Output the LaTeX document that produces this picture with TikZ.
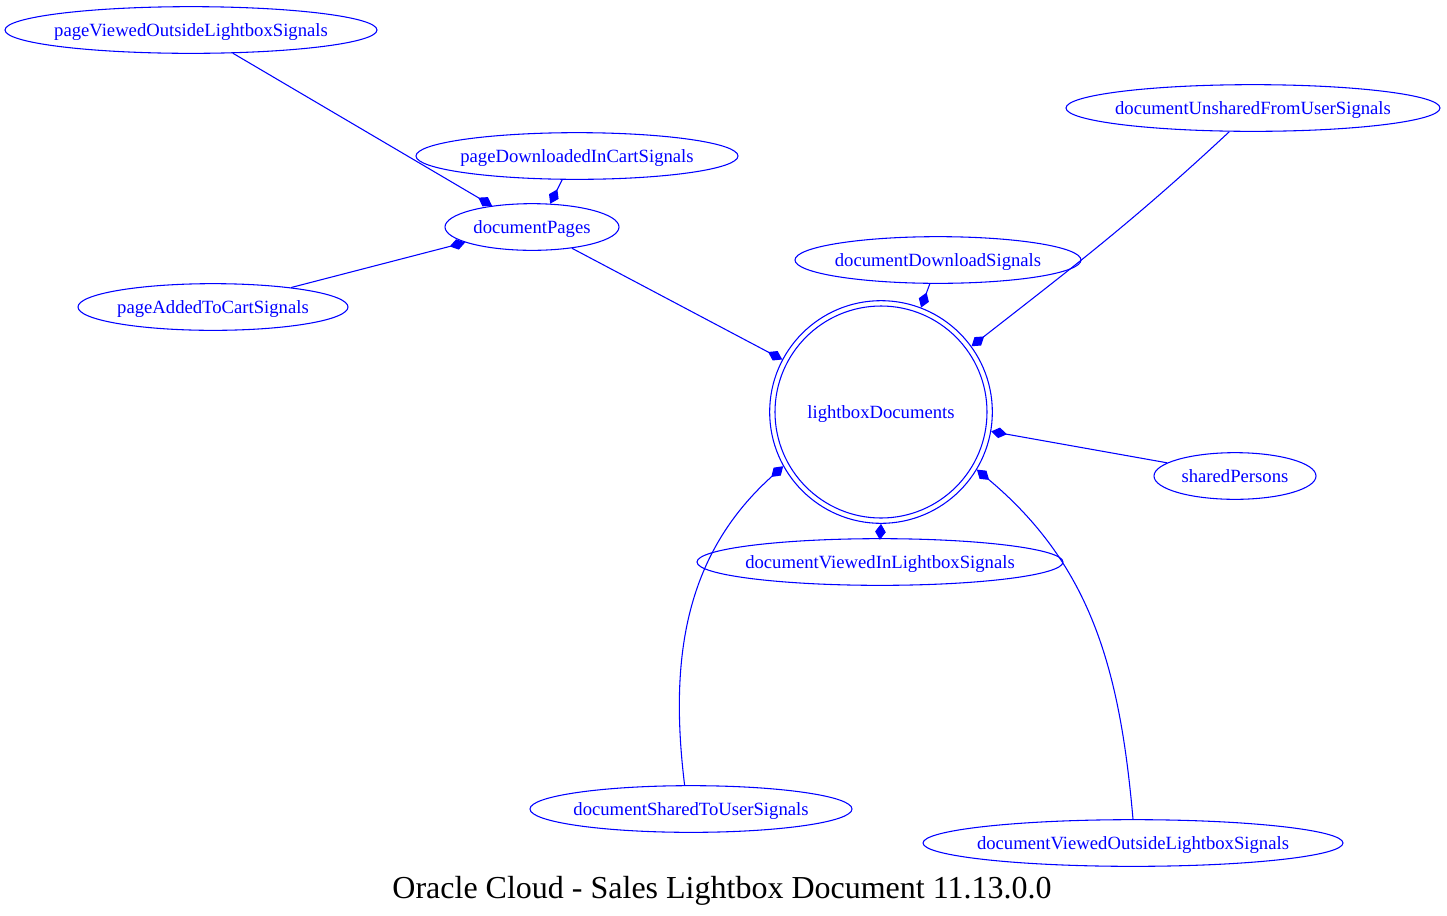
\documentclass[tikz,border=0pt]{standalone}
\usepackage{fontspec}
\setmainfont{Liberation Serif}
\usetikzlibrary{shapes.geometric,arrows.meta}
\definecolor{gvblue}{RGB}{0,0,255}
\newcommand{\siglabel}[1]{\makebox[0pt]{\smash{\raisebox{-4.6pt}{#1}}}}

\begin{document}
\begin{tikzpicture}[x=0.75pt, y=-0.75pt, >={Diamond[length=12pt,width=8pt]}, font=\fontsize{14}{16}\selectfont,
		sig/.style={ellipse, draw=gvblue, text=gvblue, line width=0.8pt, inner sep=0pt, minimum height=35pt},
		link/.style={gvblue, line width=0.8pt, ->}]
		\useasboundingbox (0,0) rectangle (1447,915);
		% signal nodes
		\node[sig, minimum width=279pt] (pvo) at (191,30) {\siglabel{pageViewedOutsideLightboxSignals}};
		\node[sig, minimum width=241.5pt] (pdc) at (577,156) {\siglabel{pageDownloadedInCartSignals}};
		\node[sig, minimum width=130.5pt] (dp) at (532,227) {\siglabel{documentPages}};
		\node[sig, minimum width=202.5pt] (pac) at (213,307) {\siglabel{pageAddedToCartSignals}};
		\node[sig, minimum width=214.5pt] (dds) at (938,260) {\siglabel{documentDownloadSignals}};
		\node[sig, minimum width=280.5pt] (dus) at (1253,108) {\siglabel{documentUnsharedFromUserSignals}};
		\node[sig, minimum width=121.5pt] (sp) at (1235,476) {\siglabel{sharedPersons}};
		\node[sig, minimum width=274.5pt] (dvl) at (880,562) {\siglabel{documentViewedInLightboxSignals}};
		\node[sig, minimum width=241.5pt] (dst) at (691,809) {\siglabel{documentSharedToUserSignals}};
		\node[sig, minimum width=315pt] (dvo) at (1133,843) {\siglabel{documentViewedOutsideLightboxSignals}};
		% root
		\node[circle, draw=gvblue, text=gvblue, line width=0.8pt, minimum size=167pt, inner sep=0pt] (lbd) at (881,412) {\siglabel{lightboxDocuments}};
		\draw[gvblue, line width=0.8pt] (lbd.center) circle (106);
		% links
		\draw[link] (pvo.-29) -- (dp.152);
		\draw[link] (pdc.-122) -- (dp.52);
		\draw[link] (pac.14) -- (dp.-167);
		\draw[link] (dp.-28) -- (lbd.152);
		\draw[link] (dds.-109) -- (lbd.69);
		\draw[link] (dus.-135) to[out=-137, in=38] (lbd.36);
		\draw[link] (sp.169) -- (lbd.-10);
		\draw[link] (dvl.north) -- (lbd.south);
		\draw[link] (dst.105) to[out=97, in=-138] (lbd.-151);
		\draw[link] (dvo.90) to[out=95, in=-40] (lbd.-31);
		\node[font=\fontsize{24}{28}\selectfont] (title) at (722,891) {Oracle Cloud - Sales Lightbox Document 11.13.0.0};
	\end{tikzpicture}
\end{document}
